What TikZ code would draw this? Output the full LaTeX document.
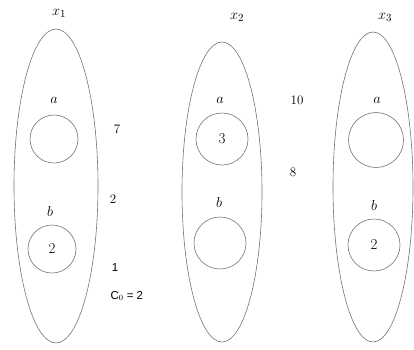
\documentclass[tikz,border=0pt]{standalone}
\usepackage{fontspec}
\newfontfamily\sansf{Liberation Sans}
\begin{document}
\begin{tikzpicture}[x=1pt,y=-1pt,
  grp/.style={draw=black!55,line width=0.6pt},
  val/.style={draw=black!55,line width=0.6pt,circle,inner sep=0pt,font=\fontsize{15}{17}\selectfont},
  lbl/.style={font=\fontsize{15}{17}\selectfont\itshape},
  num/.style={font=\fontsize{13}{15}\selectfont},
  snum/.style={font=\fontsize{11.5}{13}\selectfont\sansf}]
\useasboundingbox (0,0) rectangle (414,349);
% groups
\draw[grp] (56,186) ellipse [x radius=42, y radius=157];
\draw[grp] (222,192) ellipse [x radius=40, y radius=150];
\draw[grp] (373,187) ellipse [x radius=40, y radius=155];
\node[lbl] (x1) at (59,13) {$x_1$};
\node[lbl] (x2) at (237,17) {$x_2$};
\node[lbl] (x3) at (385,17) {$x_3$};
% values
\node[val,minimum size=48pt] (a1) at (54,139) {};
\node[val,minimum size=48pt] (b1) at (52,249) {2};
\node[val,minimum size=52pt] (a2) at (222,139) {3};
\node[val,minimum size=52pt] (b2) at (220,243) {};
\node[val,minimum size=55pt] (a3) at (376,140) {};
\node[val,minimum size=52pt] (b3) at (374,245) {2};
\node[lbl] (la1) at (54,100) {$a$};
\node[lbl] (lb1) at (50,211) {$b$};
\node[lbl] (la2) at (220,100) {$a$};
\node[lbl] (lb2) at (219,202) {$b$};
\node[lbl] (la3) at (377,100) {$a$};
\node[lbl] (lb3) at (374,205) {$b$};
% weights
\node[num] (w7) at (117,129) {7};
\node[num] (w2) at (113,199) {2};
\node[snum] (w1) at (115,268) {1};
\node[snum,anchor=west] (c0) at (107,296) {C$_0$ = 2};
\node[num] (w10) at (297,100) {10};
\node[num] (w8) at (293,172) {8};
\end{tikzpicture}
\end{document}
